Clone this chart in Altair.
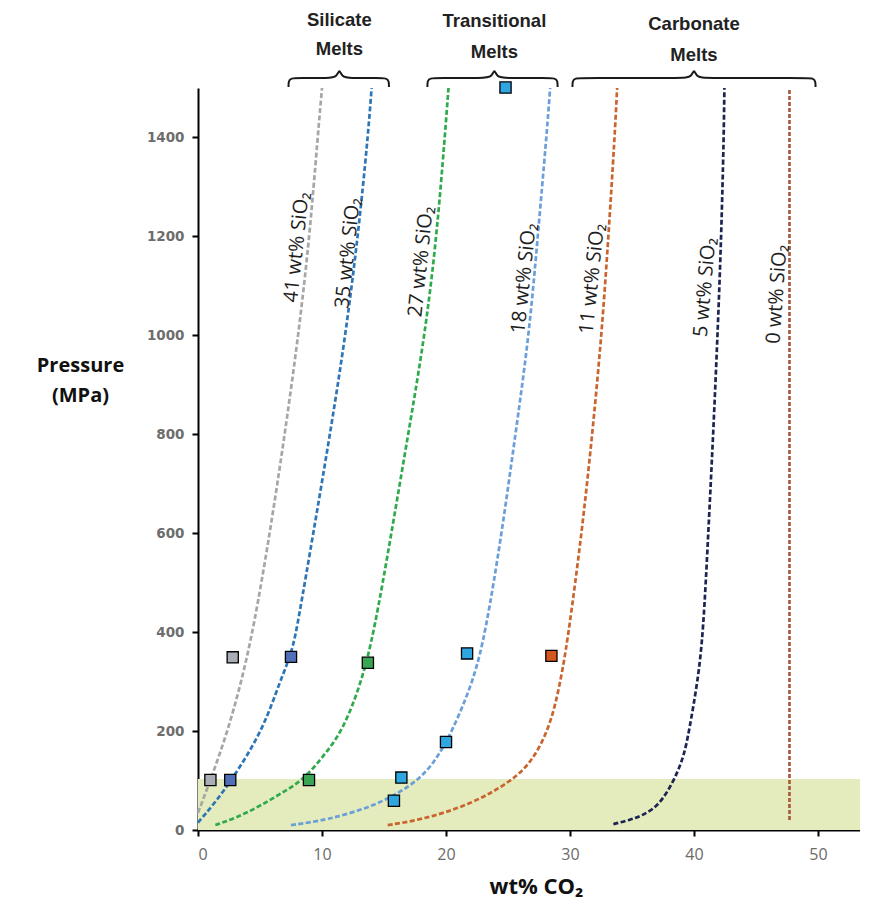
import altair as alt
import pandas as pd

# ---------------- data ----------------
SERIES = ["41", "35", "27", "18", "11", "5"]

C41_X = [0.0, 1.0, 2.4, 3.5, 4.5, 5.8, 7.0, 8.1, 9.0, 9.65, 10.0]
C41_P = [35, 100, 200, 300, 410, 600, 800, 1000, 1200, 1400, 1500]
C35_X = [0.0, 1.2, 2.7, 5.2, 6.6, 7.6, 8.1, 9.3, 10.65, 11.9, 12.9, 13.7, 14.0]
C35_P = [15, 50, 100, 200, 300, 360, 425, 600, 800, 1000, 1200, 1400, 1500]
C27_X = [1.4, 3.0, 4.9, 6.7, 8.5, 10.2, 11.7, 13.2, 14.2, 15.6, 16.95, 18.3, 19.25, 19.9, 20.2]
C27_P = [10, 24, 47, 74, 101, 152, 202, 300, 400, 600, 800, 1000, 1200, 1400, 1500]
C18_X = [7.5, 10.4, 14.5, 17.9, 19.4, 20.5, 22.2, 23.2, 24.5, 25.6, 26.7, 27.4, 28.1, 28.4]
C18_P = [10, 20, 50, 100, 150, 200, 300, 400, 600, 800, 1000, 1200, 1400, 1500]
C11_X = [15.3, 17.9, 21.9, 25.4, 27.0, 28.2, 28.85, 29.4, 29.9, 30.95, 31.8, 32.55, 33.1, 33.6, 33.8]
C11_P = [10, 20, 50, 100, 141, 200, 256, 323, 400, 600, 800, 1000, 1200, 1400, 1500]
C5_X = [33.5, 34.8, 35.9, 37.2, 38.4, 39.2, 39.6, 40.3, 40.75, 41.15, 41.55, 41.9, 42.2, 42.4, 42.45]
C5_P = [12, 20, 30, 50, 100, 150, 200, 300, 400, 600, 800, 1000, 1200, 1400, 1500]
C0_X = [47.7, 47.7]
C0_P = [20, 1500]

CURVES_X = [C41_X, C35_X, C27_X, C18_X, C11_X, C5_X]
CURVES_P = [C41_P, C35_P, C27_P, C18_P, C11_P, C5_P]

# experimental squares
SQ_X = [1.0, 2.8, 2.6, 7.5, 8.95, 13.7, 15.8, 16.4, 20.0, 21.7, 24.8, 28.5]
SQ_P = [101, 349, 101, 350, 101, 338, 59, 106, 178, 357, 1501, 352]
SQ_G = ["41", "41", "35", "35", "27", "27", "18", "18", "18", "18", "18", "11"]

# curve labels
LAB_TEXT = ["41 wt% SiO₂", "35 wt% SiO₂", "27 wt% SiO₂", "18 wt% SiO₂",
            "11 wt% SiO₂", "5 wt% SiO₂", "0 wt% SiO₂"]
LAB_X = [7.98, 12.1, 18.0, 26.3, 31.8, 40.9, 46.7]
LAB_P = [1178, 1166, 1149, 1115, 1114, 1097, 1083]

# group brackets and their titles
GROUP_LINE1 = ["Silicate", "Transitional", "Carbonate"]
GROUP_LINE2 = ["Melts", "Melts", "Melts"]
BR_X0 = [7.3, 18.5, 30.2]
BR_X1 = [15.4, 29.0, 49.8]
BR_MID = [11.4, 23.9, 40.0]

# shaded low-pressure band
BAND_P = [0, 103]

X_TICKS = [0, 10, 20, 30, 40, 50]
Y_TICKS = [0, 200, 400, 600, 800, 1000, 1200, 1400]

# ---------------- styles ----------------
PLOT_W = 662
X_MAX = PLOT_W / 12.4
LINE_COLORS = ["#a6a6a6", "#2e75b6", "#2eaa4c", "#6a9fd8", "#c9642e", "#1c2452"]
ZERO_COLOR = "#a85c3c"
SQ_COLORS = ["#a9adb5", "#4f70b8", "#3aa655", "#2fa6e0", "#d4581e"]
SQ_DOMAIN = ["41", "35", "27", "18", "11"]
LAB_ANGLE = [276, 276, 276, 276, 276, 275, 274]

# ---------------- tables ----------------
rows = []
for s, xs, ps in zip(SERIES, CURVES_X, CURVES_P):
    for i, (x, p) in enumerate(zip(xs, ps)):
        rows.append({"s": s, "x": x, "p": p, "i": i})
curves = pd.DataFrame(rows)
zero_line = pd.DataFrame({"x": C0_X, "p": C0_P, "i": list(range(len(C0_X)))})

squares = pd.DataFrame({"x": SQ_X, "p": SQ_P, "g": SQ_G})
labels = pd.DataFrame({"t": LAB_TEXT, "x": LAB_X, "p": LAB_P, "a": LAB_ANGLE})
band = pd.DataFrame({"x": [0], "x2": [X_MAX], "p": [BAND_P[0]], "p2": [BAND_P[1]]})

# brace shapes built from each bracket's span
brows = []
for b, (x0, x1, xm) in enumerate(zip(BR_X0, BR_X1, BR_MID)):
    pts = [(x0, 1502), (x0, 1514), (x0 + 0.2, 1520), (x0 + 0.8, 1520),
           (xm - 0.8, 1520), (xm - 0.2, 1522), (xm, 1540), (xm + 0.2, 1522),
           (xm + 0.8, 1520), (x1 - 0.8, 1520), (x1 - 0.2, 1520), (x1, 1514), (x1, 1502)]
    for i, (x, p) in enumerate(pts):
        brows.append({"b": b, "x": x, "p": p, "i": i})
braces = pd.DataFrame(brows)

gtext = pd.DataFrame({
    "t": GROUP_LINE1 + GROUP_LINE2,
    "x": BR_MID + BR_MID,
    "p": [1637, 1635, 1629, 1579, 1573, 1567],
})

# ---------------- encodings ----------------
x_axis = alt.Axis(
    values=X_TICKS, title="wt% CO₂", grid=False, format="d",
    domainColor="black", domainWidth=2, tickColor="black", tickWidth=2, tickSize=6,
    labelFont="Open Sans", labelFontSize=16, labelColor="#6b6b6b", labelPadding=10,
    titleFont="Open Sans", titleFontSize=22, titleFontWeight="bold", titleColor="#111111",
    titleX=338, titleY=56, titleAlign="center", titleBaseline="middle",
)
y_axis = alt.Axis(
    values=Y_TICKS, title=["Pressure", "(MPa)"], grid=False, format="d",
    domainColor="black", domainWidth=2, tickColor="black", tickWidth=2, tickSize=6,
    labelFont="DejaVu Sans", labelFontSize=13.5, labelFontWeight="bold",
    labelColor="#6d6d6d", labelPadding=8,
    titleFont="Open Sans", titleFontSize=20, titleFontWeight="bold", titleColor="#111111",
    titleAngle=0, titleX=-118, titleY=277, titleAlign="center", titleBaseline="middle",
    titleLineHeight=30,
)
X = alt.X("x:Q", scale=alt.Scale(domain=[0, X_MAX], nice=False, zero=False), axis=x_axis)
Y = alt.Y("p:Q", scale=alt.Scale(domain=[0, 1500], nice=False, zero=False), axis=y_axis)

band_layer = alt.Chart(band).mark_rect(color="#e4ecbd").encode(
    x=X, x2="x2:Q", y=Y, y2="p2:Q")

line_layer = alt.Chart(curves).mark_line(
    strokeDash=[5, 2.5], strokeWidth=2.7, interpolate="basis").encode(
    x=X, y=Y, detail="s:N", order="i:Q",
    stroke=alt.Stroke("s:N", scale=alt.Scale(domain=SERIES, range=LINE_COLORS), legend=None))

zero_layer = alt.Chart(zero_line).mark_line(
    strokeDash=[4, 2], strokeWidth=2.7, color=ZERO_COLOR).encode(
    x=X, y=Y, order="i:Q")

sq_layer = alt.Chart(squares).mark_square(size=125, opacity=1, stroke="black", strokeWidth=1.3).encode(
    x=X, y=Y,
    fill=alt.Fill("g:N", scale=alt.Scale(domain=SQ_DOMAIN, range=SQ_COLORS), legend=None))

lab_layer = alt.Chart(labels).mark_text(
    font="Open Sans", fontSize=20, color="#1e1e1e", align="center", baseline="middle").encode(
    x=X, y=Y, text="t:N", angle=alt.Angle("a:Q", scale=None))

brace_layer = alt.Chart(braces).mark_line(
    color="#1a1a1a", strokeWidth=2, interpolate="basis", clip=False).encode(
    x=X, y=Y, detail="b:N", order="i:Q")

gtext_layer = alt.Chart(gtext).mark_text(
    font="Liberation Sans", fontSize=18.5, fontWeight="bold", color="#222222",
    align="center", baseline="middle").encode(x=X, y=Y, text="t:N")

chart = alt.layer(
    band_layer, line_layer, zero_layer, sq_layer, lab_layer, brace_layer, gtext_layer
).properties(
    width=PLOT_W, height=742,
    padding={"left": 190, "top": 80, "right": 0, "bottom": 70},
    autosize=alt.AutoSizeParams(type="none"),
).configure_view(stroke=None)

chart.save("out.html", embed_options={"renderer": "svg", "actions": False})
